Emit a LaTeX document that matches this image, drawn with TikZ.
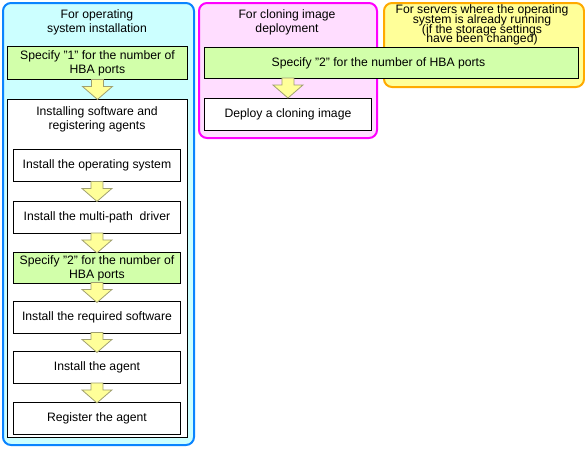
\documentclass[tikz,border=0pt]{standalone}
\usepackage{fontspec}
\setmainfont{Liberation Sans}
\usetikzlibrary{calc}
\definecolor{cyanfill}{HTML}{CCFFFF}
\definecolor{bluedraw}{HTML}{0A84FF}
\definecolor{pinkfill}{HTML}{FFDDFF}
\definecolor{magdraw}{HTML}{FF00FF}
\definecolor{yelfill}{HTML}{FFFF99}
\definecolor{orgdraw}{HTML}{FFAA00}
\definecolor{grnfill}{HTML}{D2FFAA}
\definecolor{arrfill}{HTML}{FFFF99}
\definecolor{arrdraw}{HTML}{A0A070}
\newcommand{\txtfont}{\fontsize{12.2}{14}\selectfont}
\newcommand{\tightfont}{\fontsize{12.2}{9.8}\selectfont\lineskiplimit=-20pt\lineskip=0pt}
\tikzset{
  container/.style={draw, line width=2pt, rounded corners=8pt, anchor=north west, inner sep=0pt},
  box/.style={draw=black, line width=0.9pt, fill=white, anchor=north west, inner sep=0pt, align=center, font=\txtfont},
  greenbox/.style={box, fill=grnfill},
  title/.style={align=center, font=\txtfont, inner sep=0pt},
  arrowstyle/.style={draw=arrdraw, fill=arrfill, line width=0.8pt, line join=miter},
  blockarrow/.pic={\path[arrowstyle] (-6,-10) -- (6,-10) -- (6,-3) -- (15,-3) -- (0,10) -- (-15,-3) -- (-6,-3) -- cycle;}
}
\begin{document}
\begin{tikzpicture}[x=1pt,y=-1pt]
\useasboundingbox (0,0) rectangle (585,448);
% containers
\node[container, draw=bluedraw, fill=cyanfill, minimum width=191pt, minimum height=442pt] (osc) at (2,2) {};
\node[container, draw=magdraw, fill=pinkfill, minimum width=178pt, minimum height=135pt] (clc) at (198,2) {};
\node[container, draw=orgdraw, fill=yelfill, minimum width=200pt, minimum height=84pt] (svc) at (383,2) {};
% titles
\node[title] (t1) at (97,22) {For operating\\system installation};
\node[title] (t2) at (287,22) {For cloning image\\deployment};
\node[title, font=\tightfont] (t3) at (482,25) {For servers where the operating\\system is already running\\(if the storage settings\\have been changed)};
% first column
\node[greenbox, minimum width=180pt, minimum height=33pt] (g1) at (7,46) {Specify "1" for the number of\\HBA ports};
\node[box, minimum width=180pt, minimum height=338pt] (wc) at (7,99) {};
\node[title] (wct) at (97,119) {Installing software and\\registering agents};
\node[box, minimum width=167pt, minimum height=32pt] (b1) at (13,149) {Install the operating system};
\node[box, minimum width=167pt, minimum height=32pt] (b2) at (13,201) {Install the multi-path\ \ driver};
\node[greenbox, minimum width=167pt, minimum height=31pt] (g2) at (13,252) {Specify "2" for the number of\\HBA ports};
\node[box, minimum width=167pt, minimum height=32pt] (b3) at (13,301) {Install the required software};
\node[box, minimum width=167pt, minimum height=32pt] (b4) at (13,351) {Install the agent};
\node[box, minimum width=167pt, minimum height=32pt] (b5) at (13,402) {Register the agent};
% second / third column
\node[greenbox, minimum width=374pt, minimum height=31pt] (g3) at (204,47) {Specify "2" for the number of HBA ports\hspace*{26pt}};
\node[box, minimum width=167pt, minimum height=32pt] (b6) at (204,98) {Deploy a cloning image};
% arrows
\pic at ($(g1.south)!0.5!(wc.north)$) {blockarrow};
\pic at ($(b1.south)!0.5!(b2.north)$) {blockarrow};
\pic at ($(b2.south)!0.5!(g2.north)$) {blockarrow};
\pic at ($(g2.south)!0.5!(b3.north)$) {blockarrow};
\pic at ($(b3.south)!0.5!(b4.north)$) {blockarrow};
\pic at ($(b4.south)!0.5!(b5.north)$) {blockarrow};
\pic at ($(b6.north)+(0,-10)$) {blockarrow};
\end{tikzpicture}
\end{document}
